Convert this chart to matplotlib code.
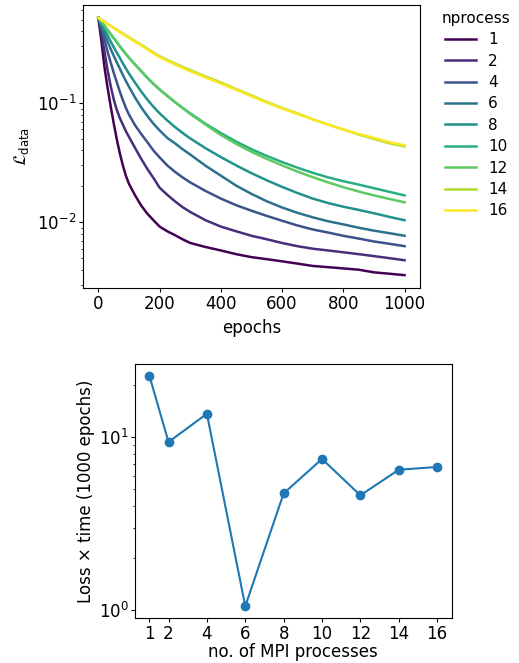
import matplotlib
matplotlib.use("Agg")
import matplotlib.pyplot as plt
import numpy as np

plt.rcParams["font.size"] = 12
plt.rcParams["xtick.major.size"] = 3
plt.rcParams["ytick.major.size"] = 3
plt.rcParams["xtick.minor.size"] = 1.8
plt.rcParams["ytick.minor.size"] = 1.8
plt.rcParams["xtick.major.pad"] = 2
plt.rcParams["ytick.major.pad"] = 1.5

# training loss per epoch for each number of MPI processes
epochs = [0, 10, 20, 30, 40, 50, 60, 70, 80, 90, 100, 120, 140, 160, 180, 200,
          225, 250, 275, 300, 350, 400, 450, 500, 550, 600, 650, 700, 750, 800,
          850, 900, 950, 1000]

loss_np1 = [0.518, 0.33, 0.20, 0.135, 0.095, 0.068, 0.050, 0.038, 0.030, 0.0245,
            0.021, 0.0168, 0.0138, 0.0118, 0.0104, 0.0092, 0.0084, 0.0078, 0.0072,
            0.0067, 0.0062, 0.0058, 0.0054, 0.0051, 0.0049, 0.0047, 0.0045, 0.0043,
            0.0042, 0.0041, 0.0040, 0.0038, 0.0037, 0.0036]
loss_np2 = [0.518, 0.38, 0.27, 0.19, 0.14, 0.108, 0.088, 0.075, 0.066, 0.058,
            0.052, 0.042, 0.034, 0.028, 0.0235, 0.0195, 0.0170, 0.0150, 0.0134,
            0.0122, 0.0104, 0.0092, 0.0084, 0.0077, 0.0072, 0.0067, 0.0063, 0.0060,
            0.0058, 0.0056, 0.0054, 0.0052, 0.0050, 0.0048]
loss_np4 = [0.518, 0.42, 0.34, 0.27, 0.22, 0.18, 0.15, 0.125, 0.106, 0.091,
            0.080, 0.065, 0.055, 0.047, 0.040, 0.035, 0.030, 0.0265, 0.0238,
            0.0216, 0.0183, 0.0158, 0.0139, 0.0125, 0.0113, 0.0103, 0.0094, 0.0087,
            0.0082, 0.0077, 0.0073, 0.0069, 0.0066, 0.0063]
loss_np6 = [0.518, 0.44, 0.38, 0.33, 0.285, 0.25, 0.22, 0.195, 0.172, 0.153,
            0.137, 0.111, 0.092, 0.078, 0.067, 0.059, 0.051, 0.046, 0.041,
            0.037, 0.0298, 0.0246, 0.0203, 0.0173, 0.0150, 0.0133, 0.0120, 0.0110,
            0.0102, 0.0096, 0.0090, 0.0085, 0.0081, 0.0077]
loss_np8 = [0.518, 0.46, 0.41, 0.37, 0.33, 0.295, 0.265, 0.24, 0.215, 0.195,
            0.177, 0.148, 0.125, 0.107, 0.093, 0.082, 0.0715, 0.063, 0.0562,
            0.0505, 0.0418, 0.0352, 0.0300, 0.0258, 0.0225, 0.0198, 0.0176, 0.0158,
            0.0145, 0.0135, 0.0127, 0.0119, 0.0111, 0.0104]
loss_np10 = [0.518, 0.48, 0.445, 0.41, 0.38, 0.35, 0.325, 0.30, 0.278, 0.258,
             0.24, 0.21, 0.185, 0.163, 0.145, 0.130, 0.115, 0.102, 0.091,
             0.082, 0.067, 0.056, 0.0475, 0.041, 0.036, 0.032, 0.0287, 0.026,
             0.0238, 0.0221, 0.0207, 0.0193, 0.018, 0.0168]
loss_np12 = [0.518, 0.48, 0.445, 0.41, 0.38, 0.35, 0.325, 0.30, 0.278, 0.258,
             0.24, 0.21, 0.185, 0.163, 0.145, 0.130, 0.115, 0.102, 0.091,
             0.081, 0.066, 0.054, 0.0455, 0.039, 0.034, 0.030, 0.0266, 0.0239,
             0.0216, 0.0197, 0.0181, 0.0168, 0.0157, 0.0147]
loss_np14 = [0.518, 0.499, 0.481, 0.463, 0.446, 0.429, 0.413, 0.398, 0.383, 0.369,
             0.356, 0.331, 0.308, 0.286, 0.265, 0.247, 0.230, 0.215, 0.201,
             0.189, 0.167, 0.149, 0.131, 0.116, 0.102, 0.091, 0.082, 0.073,
             0.066, 0.060, 0.0545, 0.050, 0.046, 0.0433]
loss_np16 = [0.518, 0.498, 0.479, 0.461, 0.443, 0.426, 0.41, 0.394, 0.379, 0.365,
             0.352, 0.327, 0.304, 0.282, 0.261, 0.243, 0.226, 0.211, 0.197,
             0.185, 0.164, 0.146, 0.129, 0.114, 0.101, 0.090, 0.081, 0.073,
             0.066, 0.060, 0.055, 0.051, 0.047, 0.0442]

nprocess = [1, 2, 4, 6, 8, 10, 12, 14, 16]
loss_curves = [loss_np1, loss_np2, loss_np4, loss_np6, loss_np8,
               loss_np10, loss_np12, loss_np14, loss_np16]

# loss x wall time after 1000 epochs
loss_time = [22.8, 9.4, 13.7, 1.055, 4.74, 7.5, 4.62, 6.5, 6.74]

fig = plt.figure(figsize=(5.19, 6.63), dpi=100)

ax1 = fig.add_axes([0.160, 0.5656, 0.649, 0.4268])
colors = plt.cm.viridis(np.linspace(0, 1, len(nprocess)))
for n, curve, c in zip(nprocess, loss_curves, colors):
    ax1.plot(epochs, curve, color=c, lw=1.8, label=str(n))
ax1.set_yscale("log")
ax1.set_xticks([0, 200, 400, 600, 800, 1000])
ax1.set_xlabel("epochs", labelpad=4)
ax1.set_ylabel(r"$\mathcal{L}_{\rm data}$")
ax1.yaxis.set_label_coords(-0.154, 0.5)
ax1.legend(title="nprocess", frameon=False, loc="upper left", fontsize=11,
           title_fontsize=11, labelspacing=0.42, borderpad=0.2,
           bbox_to_anchor=(0.831, 1.0), bbox_transform=fig.transFigure)

ax2 = fig.add_axes([0.260, 0.0683, 0.610, 0.3827])
ax2.plot(nprocess, loss_time, "o-", color="C0")
ax2.set_yscale("log")
ax2.set_xticks(nprocess)
ax2.set_xlabel("no. of MPI processes", labelpad=0)
ax2.set_ylabel("Loss × time (1000 epochs)")
ax2.yaxis.set_label_coords(-0.126, 0.5)

fig.savefig("out.png", dpi=100)
